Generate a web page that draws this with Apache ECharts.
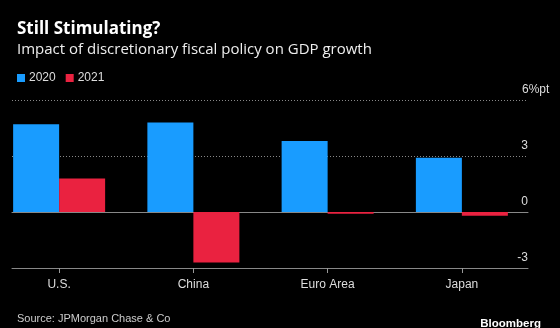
<!DOCTYPE html>
<html><head><meta charset="utf-8">
<script src="https://cdn.jsdelivr.net/npm/echarts@6/dist/echarts.min.js"></script>
<style>html,body{margin:0;padding:0;background:#000;overflow:hidden;}#c{width:568px;height:328px;margin-left:-8px;}</style>
</head><body><div id="c"></div>
<script>
const categories = ['U.S.', 'China', 'Euro Area', 'Japan'];
const seriesNames = ['2020', '2021'];
const values2020 = [4.7, 4.8, 3.8, 2.9];
const values2021 = [1.8, -2.7, -0.1, -0.2];
const yTicks = [-3, 0, 3, 6];
const yUnit = '%pt';

const FONT = '"Open Sans", "Noto Sans", sans-serif';
const SMALL = '"Liberation Sans", Arial, sans-serif';
const yMin = yTicks[0], yMax = yTicks[yTicks.length - 1];
const chart = echarts.init(document.getElementById('c'), null, {renderer: 'canvas'});
chart.setOption({
  backgroundColor: '#000',
  animation: false,
  textStyle: {fontFamily: SMALL},
  title: [
    {text: 'Still Stimulating?', left: 20, top: 16, textStyle: {color: '#fff', fontSize: 17, fontWeight: 'bold', fontFamily: FONT}},
    {text: 'Impact of discretionary fiscal policy on GDP growth', left: 20, top: 37, textStyle: {color: '#eee', fontSize: 15, fontWeight: 'normal', fontFamily: FONT}},
    {text: 'Source: JPMorgan Chase & Co', left: 20, top: 308, textStyle: {color: '#ccc', fontSize: 11, fontWeight: 'normal', fontFamily: SMALL}},
    {text: 'Bloomberg', right: 14, top: 313, textStyle: {color: '#fff', fontSize: 11.5, fontWeight: 'bold', fontFamily: SMALL}}
  ],
  legend: {
    left: 20, top: 67, itemWidth: 8, itemHeight: 8, itemGap: 10, icon: 'rect',
    textStyle: {color: '#ddd', fontSize: 12, fontFamily: SMALL, padding: [0, 0, 0, -1]},
    data: seriesNames
  },
  grid: [
    {left: 0, top: 100, width: 537, height: 168},
    {left: 20, top: 100, width: 516, height: 168}
  ],
  xAxis: [
    {type: 'category', gridIndex: 0, data: categories,
     axisLine: {show: false, onZero: false}, axisTick: {show: true, alignWithLabel: true, length: 5, lineStyle: {color: '#999'}},
     axisLabel: {color: '#ddd', fontSize: 12, margin: 11, fontFamily: SMALL}},
    {type: 'category', gridIndex: 1, data: [''], position: 'bottom',
     axisLine: {show: true, onZero: false, lineStyle: {color: '#888'}}, axisTick: {show: false}, axisLabel: {show: false}},
    {type: 'category', gridIndex: 1, data: [''], position: 'top',
     axisLine: {show: true, onZero: true, lineStyle: {color: '#888'}}, axisTick: {show: false}, axisLabel: {show: false}}
  ],
  yAxis: [
    {type: 'value', gridIndex: 0, min: yMin, max: yMax, interval: 3, show: false},
    {type: 'value', gridIndex: 1, position: 'right', min: yMin, max: yMax, interval: 3,
     axisLine: {show: false}, axisTick: {show: false},
     splitLine: {show: true, lineStyle: {color: '#888', type: [1, 2], width: 1}},
     axisLabel: {inside: true, margin: 0, color: '#ddd', fontSize: 12, verticalAlign: 'bottom', padding: [0, 0, 4, 0], fontFamily: SMALL,
       formatter: v => v === yMax ? '' : String(v)}},
    {type: 'value', gridIndex: 1, position: 'right', min: yMin, max: yMax, interval: 3,
     axisLine: {show: false}, axisTick: {show: false}, splitLine: {show: false},
     axisLabel: {inside: true, margin: 6, align: 'left', color: '#ddd', fontSize: 12, verticalAlign: 'bottom', padding: [0, 0, 4, 0], fontFamily: SMALL,
       formatter: v => v === yMax ? v + yUnit : ''}}
  ],
  series: [
    {name: seriesNames[0], type: 'bar', xAxisIndex: 0, yAxisIndex: 0, data: values2020, barWidth: 46, barGap: '0%', itemStyle: {color: '#199cff'}},
    {name: seriesNames[1], type: 'bar', xAxisIndex: 0, yAxisIndex: 0, data: values2021, barWidth: 46, barGap: '0%', itemStyle: {color: '#ea2240'}}
  ]
});
</script></body></html>
